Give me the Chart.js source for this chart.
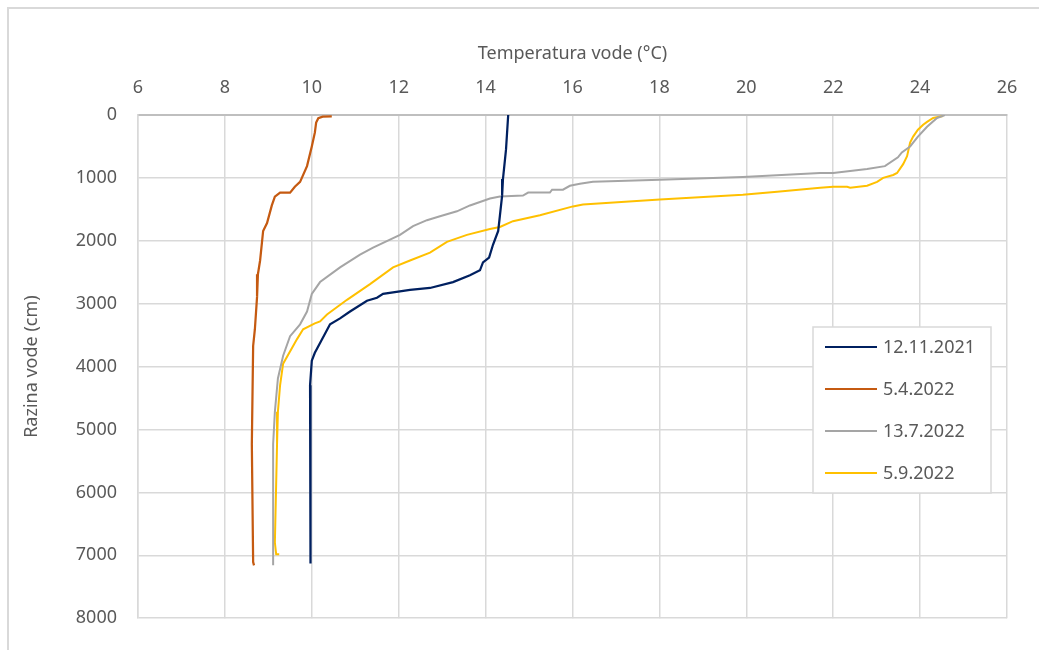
<!DOCTYPE html>
<html>
<head>
<meta charset="utf-8">
<script src="https://cdn.jsdelivr.net/npm/chart.js@4/dist/chart.umd.min.js"></script>
<style>
  html, body { margin: 0; padding: 0; background: #fff; overflow: hidden; }
  #frame { position: absolute; left: 7px; top: 7px; width: 1060px; height: 700px; border: 2px solid #d9d9d9; box-sizing: border-box; }
  #wrap { position: absolute; left: 0; top: 0; width: 1039px; height: 650px; }
</style>
</head>
<body>
<div id="frame"></div>
<div id="wrap"><canvas id="profile-chart" width="1039" height="650"></canvas></div>
<script>
// series names (legend)
let seriesNames = ['12.11.2021', '5.4.2022', '13.7.2022', '5.9.2022']

// temperature (°C) and depth (cm), one pair of arrays per date
let tempNov21 = [14.52, 14.47, 14.40, 14.38, 14.33, 14.29, 14.17, 14.08, 13.94, 13.87, 13.64, 13.25, 12.72, 12.26, 11.64, 11.50, 11.27, 10.88, 10.65, 10.42, 10.19, 10.07, 10.00, 9.96, 9.96, 9.98]
let depthNov21 = [0, 547, 1016, 1281, 1594, 1844, 2063, 2266, 2344, 2469, 2547, 2656, 2750, 2781, 2844, 2906, 2953, 3125, 3234, 3328, 3625, 3781, 3906, 4297, 5234, 7130]

let tempApr22 = [10.46, 10.25, 10.15, 10.10, 10.07, 10.00, 9.89, 9.73, 9.61, 9.50, 9.27, 9.15, 9.08, 8.97, 8.88, 8.81, 8.76, 8.74, 8.69, 8.65, 8.62, 8.65, 8.67]
let depthApr22 = [20, 25, 50, 120, 281, 500, 813, 1063, 1141, 1234, 1234, 1297, 1438, 1719, 1844, 2313, 2531, 2891, 3406, 3672, 5234, 7109, 7160]

let tempJul22 = [24.57, 24.39, 24.16, 23.95, 23.77, 23.58, 23.49, 23.19, 22.78, 22.00, 21.70, 19.92, 18.01, 16.47, 16.17, 15.94, 15.78, 15.53, 15.48, 14.98, 14.86, 14.33, 14.10, 13.64, 13.34, 12.95, 12.65, 12.33, 12.03, 11.41, 11.11, 10.65, 10.19, 10.00, 9.89, 9.73, 9.50, 9.34, 9.22, 9.15, 9.11, 9.11]
let depthJul22 = [0, 47, 188, 344, 500, 594, 672, 813, 859, 922, 922, 984, 1031, 1063, 1094, 1125, 1188, 1188, 1234, 1234, 1281, 1297, 1328, 1438, 1531, 1609, 1672, 1766, 1906, 2109, 2219, 2422, 2656, 2844, 3125, 3328, 3516, 3828, 4188, 4719, 5234, 7160]

let tempSep22 = [24.53, 24.30, 24.16, 24.07, 23.95, 23.84, 23.77, 23.70, 23.61, 23.47, 23.38, 23.15, 23.01, 22.78, 22.39, 22.32, 22.00, 21.70, 20.71, 19.92, 18.01, 16.24, 16.01, 15.25, 14.63, 14.33, 14.10, 13.57, 13.11, 12.72, 12.26, 11.87, 11.34, 10.81, 10.35, 10.19, 10.07, 9.80, 9.66, 9.57, 9.34, 9.27, 9.22, 9.20, 9.15, 9.18, 9.25]
let depthSep22 = [16, 47, 109, 156, 234, 344, 438, 656, 781, 922, 953, 1000, 1063, 1125, 1156, 1141, 1141, 1156, 1219, 1266, 1344, 1422, 1453, 1594, 1688, 1781, 1813, 1906, 2016, 2188, 2313, 2422, 2688, 2938, 3172, 3281, 3313, 3406, 3563, 3672, 3953, 4297, 4719, 5234, 6797, 6984, 6984]

// axis tick settings
let tempMin = 6, tempMax = 26, tempStep = 2
let depthMin = 0, depthMax = 8000, depthStep = 1000

let lineColors = ['#002060', '#c55a11', '#a5a5a5', '#ffc000']
let lineWidths = [2.25, 2.25, 2, 2]

function toPoints(temps, depths) {
    return temps.map(function (t, i) { return { x: t, y: depths[i] } })
}

let allTemps = [tempNov21, tempApr22, tempJul22, tempSep22]
let allDepths = [depthNov21, depthApr22, depthJul22, depthSep22]

let datasets = seriesNames.map(function (name, i) {
    return {
        label: name,
        data: toPoints(allTemps[i], allDepths[i]),
        borderColor: lineColors[i],
        backgroundColor: lineColors[i],
        borderWidth: lineWidths[i],
        showLine: true,
        pointRadius: 0,
        tension: 0
    }
})

// legend box drawn inside the plot, like the original
let boxLegend = {
    id: 'boxLegend',
    afterDraw(chart) {
        let ctx = chart.ctx
        let x = 813, y = 327, w = 178, h = 166
        ctx.save()
        ctx.fillStyle = '#ffffff'
        ctx.fillRect(x, y, w, h)
        ctx.strokeStyle = '#d9d9d9'
        ctx.lineWidth = 1.5
        ctx.strokeRect(x, y, w, h)
        ctx.font = '18px "Noto Sans"'
        ctx.textBaseline = 'middle'
        chart.data.datasets.forEach(function (ds, i) {
            let rowY = 347 + i * 42
            ctx.strokeStyle = ds.borderColor
            ctx.lineWidth = 2
            ctx.beginPath()
            ctx.moveTo(825, rowY)
            ctx.lineTo(877, rowY)
            ctx.stroke()
            ctx.fillStyle = '#595959'
            ctx.fillText(ds.label, 883, rowY + 1)
        })
        ctx.restore()
    }
}

let ctx = document.querySelector('#profile-chart').getContext('2d')

let profileChart = new Chart(ctx, {
    type: 'scatter',
    data: { datasets: datasets },
    options: {
        responsive: false,
        animation: false,
        layout: { padding: { left: 0, top: 0, right: 32, bottom: 23 } },
        plugins: { legend: { display: false }, tooltip: { enabled: false } },
        scales: {
            x: {
                type: 'linear',
                position: 'top',
                min: tempMin,
                max: tempMax,
                ticks: { stepSize: tempStep, color: '#595959', font: { family: 'Noto Sans', size: 18 }, padding: 16, maxRotation: 0 },
                grid: { color: '#d9d9d9', lineWidth: 1.5, drawTicks: false },
                border: { color: '#bfbfbf', width: 2 },
                title: { display: true, text: 'Temperatura vode (°C)', color: '#595959', font: { family: 'Noto Sans', size: 18 }, padding: { top: 43, bottom: 0 } },
                afterFit(scale) { scale.height = 115 }
            },
            y: {
                type: 'linear',
                reverse: true,
                min: depthMin,
                max: depthMax,
                ticks: {
                    stepSize: depthStep, color: '#595959', font: { family: 'Noto Sans', size: 18 }, padding: 21,
                    callback: function (value) { return String(value) }
                },
                grid: { color: '#d9d9d9', lineWidth: 1.5, drawTicks: false },
                border: { color: '#d9d9d9', width: 1.5 },
                title: { display: true, text: 'Razina vode (cm)', color: '#595959', font: { family: 'Noto Sans', size: 18 }, padding: { top: 21, bottom: 0 } },
                afterFit(scale) { scale.width = 138 }
            }
        }
    },
    plugins: [boxLegend]
})
</script>
</body>
</html>
